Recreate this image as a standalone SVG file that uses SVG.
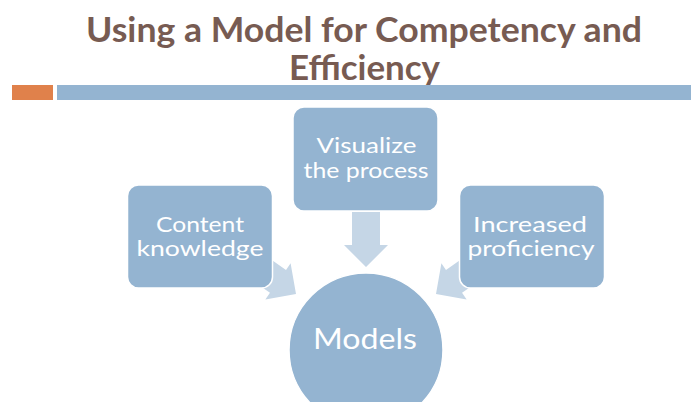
<svg xmlns="http://www.w3.org/2000/svg" width="691" height="402" viewBox="0 0 691 402">
  <style>
    .title { font-family: Lato, "Open Sans", "Liberation Sans", sans-serif; font-weight: bold; font-size: 34px; fill: #775b52; text-anchor: middle; }
    .box { fill: #94b4d1; stroke: #ffffff; stroke-width: 1.5; }
    .arrow { fill: #c5d6e6; }
    .label { font-family: Lato, "Open Sans", "Liberation Sans", sans-serif; font-size: 21px; fill: #ffffff; text-anchor: middle; }
    .big { font-size: 29px; }
  </style>
  <defs>
    <!-- block arrow pointing along +x, tip at origin -->
    <path id="blockArrow" d="M-55,-14 L-22,-14 L-22,-22 L0,0 L-22,22 L-22,14 L-55,14 Z"/>
  </defs>

  <rect width="691" height="402" fill="#ffffff"/>

  <!-- heading -->
  <text class="title" x="364" y="42" textLength="556" lengthAdjust="spacingAndGlyphs">Using a Model for Competency and</text>
  <text class="title" x="364.5" y="80" textLength="151" lengthAdjust="spacingAndGlyphs">Efficiency</text>
  <rect x="12" y="85" width="41" height="15" fill="#e0814b"/>
  <rect x="57" y="85" width="634" height="15" fill="#94b4d1"/>

  <!-- connectors -->
  <g id="connectors">
    <use href="#blockArrow" class="arrow" transform="translate(366,267) rotate(90)"/>
    <use href="#blockArrow" class="arrow" transform="translate(296,294) rotate(35)"/>
    <use href="#blockArrow" class="arrow" transform="translate(436,294) rotate(145)"/>
  </g>

  <g id="content-knowledge">
    <rect class="box" x="127.5" y="185" width="145" height="103" rx="11"/>
    <text class="label" x="200" y="232" textLength="88" lengthAdjust="spacingAndGlyphs">Content</text>
    <text class="label" x="200" y="256" textLength="127" lengthAdjust="spacingAndGlyphs">knowledge</text>
  </g>

  <g id="visualize">
    <rect class="box" x="293" y="107" width="145" height="104" rx="11"/>
    <text class="label" x="366.5" y="153" textLength="100" lengthAdjust="spacingAndGlyphs">Visualize</text>
    <text class="label" x="366" y="178" textLength="125" lengthAdjust="spacingAndGlyphs">the process</text>
  </g>

  <g id="increased-proficiency">
    <rect class="box" x="459.5" y="185" width="145" height="103" rx="11"/>
    <text class="label" x="530" y="232" textLength="114" lengthAdjust="spacingAndGlyphs">Increased</text>
    <text class="label" x="531" y="256" textLength="127" lengthAdjust="spacingAndGlyphs">proficiency</text>
  </g>

  <g id="models">
    <circle class="box" cx="366" cy="350" r="77"/>
    <text class="label big" x="365" y="349" textLength="104" lengthAdjust="spacingAndGlyphs">Models</text>
  </g>
</svg>
